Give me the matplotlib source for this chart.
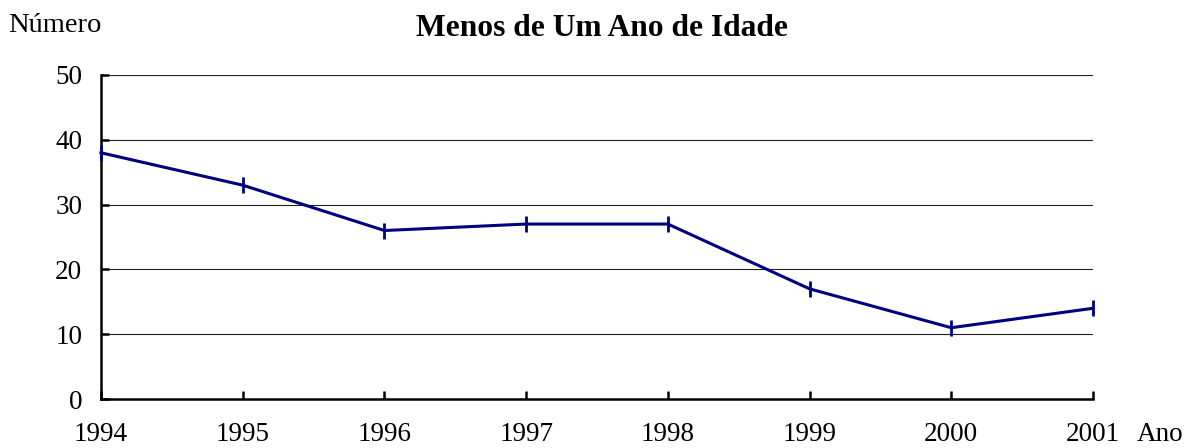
import matplotlib
matplotlib.use("Agg")
import matplotlib.pyplot as plt

years = [1994, 1995, 1996, 1997, 1998, 1999, 2000, 2001]
values = [38, 33, 26, 27, 27, 17, 11, 14]
yticks = [0, 10, 20, 30, 40, 50]
title = "Menos de Um Ano de Idade"
ylabel = "Número"
xlabel = "Ano"

plt.rcParams['font.family'] = ['Liberation Serif', 'DejaVu Serif']

fig = plt.figure(figsize=(11.86, 4.48), dpi=100)
ax = fig.add_axes([101/1186, 49/448, 992/1186, 324/448])

ax.plot(years, values, color='#000080', lw=2.2, marker='|', ms=11.5, mew=2.0, clip_on=False, zorder=3)

ax.set_xlim(1994, 2001)
ax.set_ylim(0, 50)
ax.set_yticks(yticks)
ax.set_xticks(years)
ax.set_xticklabels([str(y) for y in years], fontsize=19.5)
ax.set_yticklabels([str(v) for v in yticks], fontsize=19.5)
for v in yticks[1:]:
    ax.axhline(v, color='#222222', lw=0.8, zorder=1)

for s in ['top', 'right']:
    ax.spines[s].set_visible(False)
for s in ['left', 'bottom']:
    ax.spines[s].set_linewidth(1.8)
ax.tick_params(axis='x', direction='in', length=6, width=1.8, pad=16.5)
ax.tick_params(axis='y', direction='in', length=6, width=1.8, pad=13.5)

fig.text(602/1186, 1 - 28/448, title, ha='center', va='center', fontsize=22.7, fontweight='bold')
fig.text(8/1186, 1 - 26/448, ylabel, ha='left', va='center', fontsize=20.5)
fig.text(1137/1186, 1 - 434/448, xlabel, ha='left', va='center', fontsize=19.5)

fig.savefig("out.png", dpi=100)
